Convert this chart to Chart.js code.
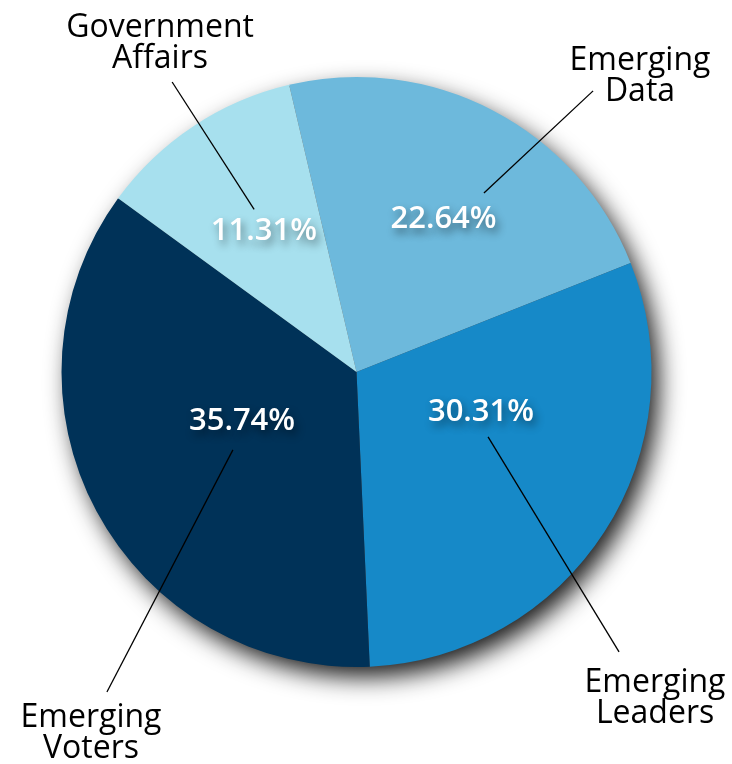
<!DOCTYPE html>
<html>
<head>
<meta charset="utf-8">
<title>Program share</title>
<script src="https://cdn.jsdelivr.net/npm/chart.js@4.4.1/dist/chart.umd.min.js"></script>
<style>
  body { margin: 0; background: #fff; }
  #wrap { width: 732px; height: 764px; }
</style>
</head>
<body>
<div id="wrap"><canvas id="pieChart" width="732" height="764"></canvas></div>
<script>
// data
var categories = ["Emerging Data", "Emerging Leaders", "Emerging Voters", "Government Affairs"];
var nameLines = [["Emerging", "Data"], ["Emerging", "Leaders"], ["Emerging", "Voters"], ["Government", "Affairs"]];
var shares = [22.64, 30.31, 35.74, 11.31];
var sliceColors = ["#6db9dc", "#1689c8", "#003258", "#a7e0ee"];

// where the callouts sit, in units of the pie radius from its centre
var pctSpots = [[0.295, -0.519], [0.422, 0.136], [-0.388, 0.168], [-0.314, -0.478]];
var lineFrom = [[0.432, -0.607], [0.446, 0.220], [-0.419, 0.264], [-0.347, -0.551]];
var lineTo = [[0.802, -0.953], [0.890, 0.949], [-0.846, 1.085], [-0.625, -0.983]];
var nameSpots = [[0.961, -1.024], [1.012, 1.085], [-0.900, 1.203], [-0.666, -1.136]];

var FONT = '"Open Sans", "Noto Sans", sans-serif';

// soft drop shadow under the whole pie
var pieShadow = {
  id: 'pieShadow',
  beforeDatasetsDraw(chart) {
    var arc = chart.getDatasetMeta(0).data[0];
    if (!arc) return;
    var ctx = chart.ctx;
    ctx.save();
    ctx.shadowColor = 'rgba(0,0,0,0.9)';
    ctx.shadowBlur = 24;
    ctx.shadowOffsetX = 8;
    ctx.shadowOffsetY = 11;
    ctx.fillStyle = '#555';
    ctx.beginPath();
    ctx.arc(arc.x, arc.y, arc.outerRadius - 1, 0, Math.PI * 2);
    ctx.fill();
    ctx.restore();
  }
};

// percentages inside, names outside with a thin leader line
var callouts = {
  id: 'callouts',
  afterDatasetsDraw(chart) {
    var meta = chart.getDatasetMeta(0);
    var ctx = chart.ctx;
    var first = meta.data[0];
    var cx = first.x, cy = first.y, r = first.outerRadius;

    meta.data.forEach(function (arc, i) {
      // leader line
      ctx.save();
      ctx.strokeStyle = '#000';
      ctx.lineWidth = 1.3;
      ctx.beginPath();
      ctx.moveTo(cx + lineFrom[i][0] * r, cy + lineFrom[i][1] * r);
      ctx.lineTo(cx + lineTo[i][0] * r, cy + lineTo[i][1] * r);
      ctx.stroke();
      ctx.restore();

      // percent label
      ctx.save();
      ctx.font = '600 31px ' + FONT;
      ctx.textAlign = 'center';
      ctx.textBaseline = 'middle';
      ctx.fillStyle = '#fff';
      ctx.shadowColor = 'rgba(0,0,0,0.45)';
      ctx.shadowBlur = 8;
      ctx.shadowOffsetX = 3;
      ctx.shadowOffsetY = 5;
      ctx.fillText(shares[i].toFixed(2) + '%', cx + pctSpots[i][0] * r, cy + pctSpots[i][1] * r);
      ctx.restore();

      // category name, two lines
      ctx.save();
      ctx.font = '32px ' + FONT;
      ctx.textAlign = 'center';
      ctx.textBaseline = 'alphabetic';
      ctx.fillStyle = '#000';
      var nx = cx + nameSpots[i][0] * r;
      var ny = cy + nameSpots[i][1] * r;
      nameLines[i].forEach(function (txt, k) {
        ctx.fillText(txt, nx, ny + k * 31);
      });
      ctx.restore();
    });
  }
};

function drawChart() {
  new Chart(document.getElementById('pieChart'), {
    type: 'pie',
    data: {
      labels: categories,
      datasets: [{
        data: shares,
        backgroundColor: sliceColors,
        borderWidth: 0,
        hoverOffset: 0
      }]
    },
    options: {
      responsive: false,
      animation: false,
      rotation: -13.2,
      radius: 295,
      layout: { padding: { left: 50, right: 69, top: 40, bottom: 60 } },
      plugins: {
        legend: { display: false },
        tooltip: { enabled: false }
      }
    },
    plugins: [pieShadow, callouts]
  });
}

Promise.all([
  document.fonts.load('32px "Open Sans"'),
  document.fonts.load('600 31px "Open Sans"')
]).then(drawChart, drawChart);
</script>
</body>
</html>
